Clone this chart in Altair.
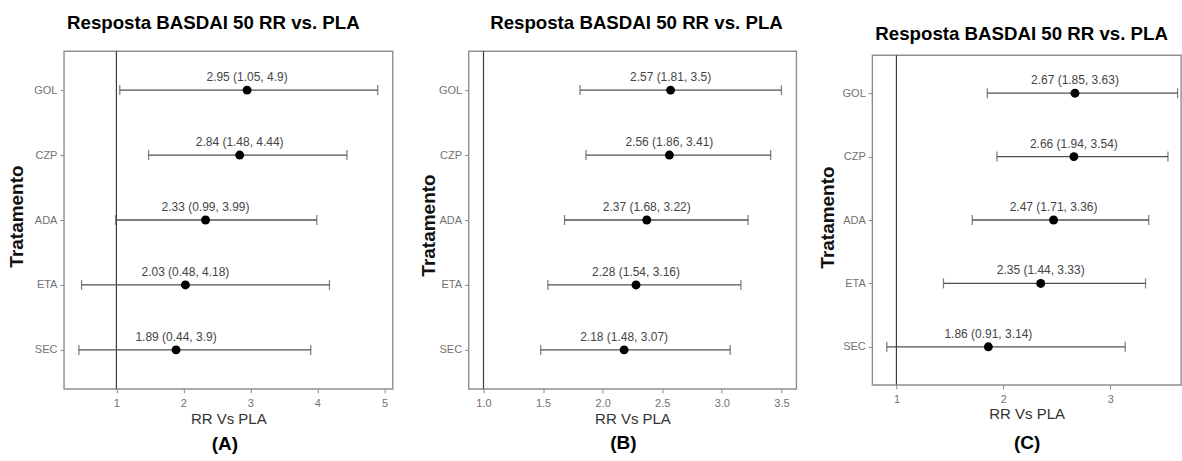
import altair as alt
import pandas as pd

# Treatments, top to bottom
tratamentos = ["GOL", "CZP", "ADA", "ETA", "SEC"]

# Panel A
rr_a = [2.95, 2.84, 2.33, 2.03, 1.89]
lo_a = [1.05, 1.48, 0.99, 0.48, 0.44]
hi_a = [4.9, 4.44, 3.99, 4.18, 3.9]

# Panel B
rr_b = [2.57, 2.56, 2.37, 2.28, 2.18]
lo_b = [1.81, 1.86, 1.68, 1.54, 1.48]
hi_b = [3.5, 3.41, 3.22, 3.16, 3.07]

# Panel C
rr_c = [2.67, 2.66, 2.47, 2.35, 1.86]
lo_c = [1.85, 1.94, 1.71, 1.44, 0.91]
hi_c = [3.63, 3.54, 3.36, 3.33, 3.14]

# Axis tick values per panel
ticks_a = [1, 2, 3, 4, 5]
ticks_b = [1.0, 1.5, 2.0, 2.5, 3.0, 3.5]
ticks_c = [1, 2, 3]

FONT = "Liberation Sans"
TITLE = "Resposta BASDAI 50 RR vs. PLA"
BAR_COLOR = "#505050"
LABEL_GREY = "#727272"


def panel(rr, lo, hi, domain, ticks, fmt, width, height, tag,
          title_dx, title_offset, ytitle_x, ytitle_y, tag_x, tag_y, xtitle_y):
    df = pd.DataFrame({
        "trat": tratamentos,
        "rr": rr,
        "lo": lo,
        "hi": hi,
        "lab": [f"{r:g} ({l:g}, {h:g})" for r, l, h in zip(rr, lo, hi)],
    })
    xscale = alt.Scale(domain=domain, nice=False, zero=False)
    xaxis = alt.Axis(
        title="RR Vs PLA", values=ticks, format=fmt, grid=False, domain=False,
        tickSize=4, tickColor="#8a8a8a", labelColor=LABEL_GREY, labelFontSize=11,
        labelPadding=5, titleFontSize=15, titleFontWeight="normal",
        titleColor="#333333", titleBaseline="alphabetic", titleY=xtitle_y,
    )

    def X(field):
        return alt.X(f"{field}:Q", scale=xscale, axis=xaxis)

    y = alt.Y(
        "trat:N", sort=tratamentos,
        scale=alt.Scale(type="point", padding=0.6),
        axis=alt.Axis(
            title="Tratamento", grid=False, domain=False, tickSize=4,
            tickColor="#8a8a8a", labelColor=LABEL_GREY, labelFontSize=11,
            labelPadding=3, titleFontSize=19, titleFontWeight="bold",
            titleColor="#111111", titleBaseline="alphabetic",
            titleX=ytitle_x, titleY=ytitle_y, titleAlign="center",
        ),
    )

    base = alt.Chart(df)
    ref = alt.Chart(pd.DataFrame({"ref": [1]})).mark_rule(
        color="#3c3c3c", strokeWidth=1.2
    ).encode(x=X("ref"))
    bars = base.mark_rule(color=BAR_COLOR, strokeWidth=1.3).encode(
        x=X("lo"), x2="hi:Q", y=y
    )
    cap_lo = base.mark_tick(color=BAR_COLOR, size=10, thickness=1.3).encode(x=X("lo"), y=y)
    cap_hi = base.mark_tick(color=BAR_COLOR, size=10, thickness=1.3).encode(x=X("hi"), y=y)
    pts = base.mark_circle(size=80, color="black", opacity=1).encode(x=X("rr"), y=y)
    labels = base.mark_text(dy=-13, fontSize=12, color="#454545").encode(
        x=X("rr"), y=y, text="lab:N"
    )
    tag_mark = alt.Chart(pd.DataFrame({"tag": [tag]})).mark_text(
        fontSize=19, fontWeight="bold", color="black", baseline="middle"
    ).encode(x=alt.value(tag_x), y=alt.value(tag_y), text="tag:N")

    return alt.layer(ref, bars, cap_lo, cap_hi, pts, labels, tag_mark).properties(
        width=width, height=height,
        title=alt.TitleParams(
            TITLE, fontSize=18.7, fontWeight="bold", color="black",
            anchor="middle", dx=title_dx, offset=title_offset,
            baseline="alphabetic",
        ),
    )


a = panel(rr_a, lo_a, hi_a, [0.217, 5.123], ticks_a, "d", 329, 338, "(A)",
          -15, 3, -41, 165, 161, 393, 35)
b = panel(rr_b, lo_b, hi_b, [0.875, 3.625], ticks_b, ".1f", 328, 338, "(B)",
          4, 3, -34, 174, 155, 392, 35)
c = panel(rr_c, lo_c, hi_c, [0.774, 3.662], ticks_c, "d", 309, 330, "(C)",
          -5, -4, -39, 162, 155, 388, 34)

chart = alt.hconcat(a, b, c, spacing=76, bounds="flush", center=True).properties(
    padding={"left": 7, "top": 13, "right": 0, "bottom": 0},
    background="white",
).configure(font=FONT).configure_view(stroke="#8f8f8f", strokeWidth=1.4)

chart.save("out.html", embed_options={"renderer": "svg", "actions": False})
